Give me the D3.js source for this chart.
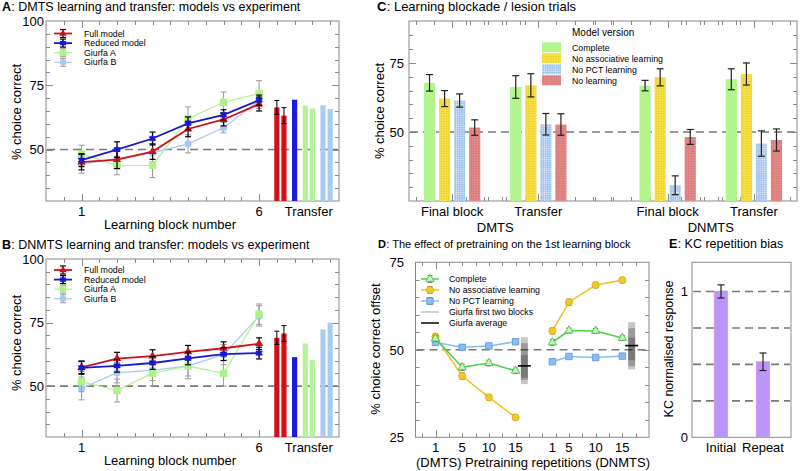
<!DOCTYPE html>
<html><head><meta charset="utf-8">
<script src="https://cdn.jsdelivr.net/npm/d3@7"></script>
<style>body{margin:0;background:#fff} svg{display:block}</style>
</head><body><svg id="c" width="800" height="471"></svg>
<script>
// ---------------- DATA ----------------
const blocks = [1, 2, 3, 4, 5, 6];
// Panel A (DMTS)
const dmtsFull = [45.1, 46.1, 49.2, 58.0, 61.7, 67.7];
const dmtsFullErr = [3.0, 3.5, 3.0, 3.0, 2.5, 2.7];
const dmtsReduced = [45.9, 50.0, 54.3, 60.2, 63.5, 69.2];
const dmtsReducedErr = [2.5, 3.0, 2.5, 2.5, 2.0, 2.0];
const dmtsGiurfaA = [48.3, 43.7, 43.9, 62.0, 68.4, 71.8];
const dmtsGiurfaAErr = [3.4, 3.5, 4.8, 4.6, 4.0, 5.0];
const dmtsGiurfaB = [44.3, 46.5, 48.7, 52.2, 58.5, 69.0];
const dmtsGiurfaBErr = [3.5, 3.5, 3.5, 3.5, 2.0, 3.0];
// Panel B (DNMTS)
const dnmtsFull = [57.4, 60.8, 61.8, 63.5, 64.9, 66.7];
const dnmtsFullErr = [2.5, 2.5, 2.5, 2.5, 2.5, 2.3];
const dnmtsReduced = [57.2, 58.0, 59.1, 60.9, 62.6, 63.0];
const dnmtsReducedErr = [2.5, 2.5, 2.5, 2.5, 2.5, 2.3];
const dnmtsGiurfaA = [51.8, 48.3, 55.1, 57.9, 55.0, 78.3];
const dnmtsGiurfaAErr = [4.0, 4.5, 5.0, 5.0, 5.0, 4.0];
const dnmtsGiurfaB = [49.1, 55.3, 56.2, 58.0, 62.4, 77.6];
const dnmtsGiurfaBErr = [4.5, 4.0, 4.0, 4.0, 4.0, 4.0];
// Transfer bars (A and B): Full x2, Reduced x1, Giurfa A x2, Giurfa B x2
const transferSeries = ["full", "full", "reduced", "gA", "gA", "gB", "gB"];
const transferPos = [6.5, 6.7, 7.0, 7.3, 7.5, 7.8, 8.0];
const dmtsTransfer = [66.4, 63.2, 69.4, 67.1, 66.0, 67.2, 65.8];
const dmtsTransferErr = [2.7, 3.1, 0, 0, 0, 0, 0];
const dnmtsTransfer = [69.0, 70.7, 61.4, 66.8, 60.2, 72.3, 75.0];
const dnmtsTransferErr = [2.6, 3.1, 0, 0, 0, 0, 0];
const yTicksAB = [50, 75, 100];

// Panel C
const cGroupLabels = ["Final block", "Transfer", "Final block", "Transfer"];
const cTaskLabels = ["DMTS", "DNMTS"];
const cVersions = ["Complete", "No associative learning", "No PCT learning", "No learning"];
const cComplete = [67.8, 66.3, 66.8, 69.1];
const cCompleteErr = [3.0, 4.1, 1.9, 3.8];
const cNoAssoc = [62.1, 66.9, 69.8, 71.0];
const cNoAssocErr = [2.9, 4.2, 3.1, 4.0];
const cNoPCT = [61.4, 52.8, 30.7, 45.8];
const cNoPCTErr = [2.4, 3.9, 3.4, 4.6];
const cNoLearn = [51.6, 52.7, 48.2, 47.1];
const cNoLearnErr = [2.8, 3.9, 2.7, 4.0];
const yTicksC = [50, 75];

// Panel D
const dReps = ["1", "5", "10", "15"];
const dComplete = [53.2, 45.0, 46.2, 44.0, 52.1, 55.5, 55.4, 53.4];
const dCompleteErr = [0.8, 0.9, 0.8, 0.8, 0.8, 0.7, 0.7, 0.7];
const dNoAssoc = [53.8, 42.5, 36.4, 30.7, 55.4, 63.6, 68.5, 69.9];
const dNoAssocErr = [0.8, 0.9, 0.8, 0.7, 0.9, 0.9, 0.8, 0.7];
const dNoPCT = [52.1, 50.7, 51.1, 52.3, 46.6, 48.1, 47.8, 48.2];
const dNoPCTErr = [0.6, 0.6, 0.6, 0.6, 0.6, 0.6, 0.6, 0.6];
const dGiurfaRangesDMTS = [[40.2, 53.6], [41.4, 51.9], [42.0, 48.5]];
const dGiurfaRangesDNMTS = [[44.4, 57.9], [45.3, 56.2], [47.0, 53.5]];
const dGiurfaAvg = [45.4, 51.2];
const yTicksD = [25, 50, 75];

// Panel E
const eCats = ["Initial", "Repeat"];
const eVals = [1.0, 0.518];
const eErr = [0.045, 0.06];
const eGrid = [0.25, 0.5, 0.75, 1];

// ---------------- DRAW ----------------
const F = "'Liberation Sans', Arial, sans-serif";
const svg = d3.select("#c");
const FR = "#8a8a8a";
const TS = 13; // tick / axis label size

const defs = svg.append("defs");
function dotPattern(id, base, dot, size, r) {
  const p = defs.append("pattern").attr("id", id).attr("patternUnits", "userSpaceOnUse")
    .attr("width", size).attr("height", size);
  p.append("rect").attr("width", size).attr("height", size).attr("fill", base);
  p.append("circle").attr("cx", size / 2).attr("cy", size / 2).attr("r", r).attr("fill", dot);
  return `url(#${id})`;
}
const patYellow = dotPattern("pY", "#f9e048", "#e3c41e", 2.5, 0.7);
const patBlue = dotPattern("pB", "#9cc0ee", "#e8f0fc", 2.2, 0.65);
const patRed = dotPattern("pR", "#e58a8a", "#cc6a6a", 2.5, 0.7);

function title(x, y, letter, text, size) {
  const a = svg.append("text").attr("x", x).attr("y", y).attr("font-family", F)
    .attr("font-size", size).attr("font-weight", "bold").text(letter);
  const w = a.node().getComputedTextLength();
  svg.append("text").attr("x", x + w + 0.3).attr("y", y).attr("font-family", F)
    .attr("font-size", size).text(": " + text);
}
function frame(x0, y0, x1, y1) {
  svg.append("rect").attr("x", x0).attr("y", y0).attr("width", x1 - x0).attr("height", y1 - y0)
    .attr("fill", "none").attr("stroke", FR).attr("stroke-width", 1);
}
function yTicks(y, vals, major, x0, x1) {
  vals.forEach(v => {
    const L = major.includes(v) ? 7 : 4;
    const yy = Math.round(y(v)) + 0.5;
    svg.append("line").attr("x1", x0).attr("x2", x0 + L).attr("y1", yy).attr("y2", yy).attr("stroke", FR);
    svg.append("line").attr("x1", x1 - L).attr("x2", x1).attr("y1", yy).attr("y2", yy).attr("stroke", FR);
  });
}
function xTicks(x, vals, major, y0, y1) {
  vals.forEach(v => {
    const L = major.includes(v) ? 7 : 4;
    const xx = Math.round(x(v)) + 0.5;
    svg.append("line").attr("x1", xx).attr("x2", xx).attr("y1", y1).attr("y2", y1 - L).attr("stroke", FR);
    svg.append("line").attr("x1", xx).attr("x2", xx).attr("y1", y0).attr("y2", y0 + L).attr("stroke", FR);
  });
}
function dashH(x0, x1, yy, dash) {
  svg.append("line").attr("x1", x0).attr("x2", x1).attr("y1", yy).attr("y2", yy)
    .attr("stroke", "#7a7a7a").attr("stroke-width", 1.6).attr("stroke-dasharray", dash || "8,5");
}
function errBar(g, x, y1, y2, cap, color, w) {
  g.append("line").attr("x1", x).attr("x2", x).attr("y1", y1).attr("y2", y2).attr("stroke", color).attr("stroke-width", w || 1);
  g.append("line").attr("x1", x - cap).attr("x2", x + cap).attr("y1", y1).attr("y2", y1).attr("stroke", color).attr("stroke-width", w || 1);
  g.append("line").attr("x1", x - cap).attr("x2", x + cap).attr("y1", y2).attr("y2", y2).attr("stroke", color).attr("stroke-width", w || 1);
}
function yLabel(x, y, text, size) {
  svg.append("text").attr("transform", `translate(${x},${y}) rotate(-90)`).attr("text-anchor", "middle")
    .attr("font-family", F).attr("font-size", size).text(text);
}
function label(x, y, text, size, anchor) {
  return svg.append("text").attr("x", x).attr("y", y).attr("text-anchor", anchor || "middle")
    .attr("font-family", F).attr("font-size", size).text(text);
}

// ---- Panels A & B ----
const styles = {
  full: { color: "#d01018", sym: d3.symbolTriangle, size: 30, err: "#000", bar: "#d5101a" },
  reduced: { color: "#1818d0", sym: d3.symbolSquare, size: 22, err: "#000", bar: "#1c1ce0" },
  gA: { color: "#aef28a", sym: d3.symbolSquare, size: 55, err: "#999", bar: "#b4f498" },
  gB: { color: "#a6c8f2", sym: d3.symbolCircle, size: 40, err: "#999", bar: "#a9cbf4" }
};
function panelAB(y0, y1, letter, ttl, series, tVals, tErr, legendTop, yLabCenter) {
  const x = d3.scaleLinear().domain([0, 8.25]).range([46, 339]);
  const y = d3.scaleLinear().domain([30, 100]).range([y1, y0]);
  title(2, y0 - 10, letter, ttl, 12.5);
  frame(46, y0, 339, y1);
  yTicks(y, d3.range(35, 100, 5), [50, 75], 46, 339);
  xTicks(x, d3.range(0.5, 8.01, 0.5), [1, 6], y0, y1);
  dashH(47, 338, y(50));
  yTicksAB.forEach(v => label(44, y(v) + 4.7, v, TS, "end"));
  label(x(1), y1 + 15, "1", TS);
  label(x(6), y1 + 15, "6", TS);
  label(x(7.4), y1 + 15, "Transfer", TS);
  label(170, y1 + 28, "Learning block number", TS);
  yLabel(21, yLabCenter, "% choice correct", TS);
  const g = svg.append("g");
  // transfer bars
  tVals.forEach((v, i) => {
    const st = styles[transferSeries[i]];
    g.append("rect").attr("x", x(transferPos[i]) - 2.6).attr("width", 5.2)
      .attr("y", y(v)).attr("height", y1 - y(v)).attr("fill", st.bar);
    if (tErr[i] > 0) errBar(g, x(transferPos[i]), y(v - tErr[i]), y(v + tErr[i]), 2.5, "#000");
  });
  const line = d3.line().x((d, i) => x(blocks[i])).y(d => y(d));
  series.forEach(s => {
    const st = styles[s.key];
    s.vals.forEach((v, i) => errBar(g, x(blocks[i]), y(v - s.err[i]), y(v + s.err[i]), 3, st.err, st.err === "#000" ? 1.2 : 1));
    g.append("path").attr("d", line(s.vals)).attr("fill", "none").attr("stroke", st.color)
      .attr("stroke-width", s.key === "gA" || s.key === "gB" ? 1.2 : 1.8);
    s.vals.forEach((v, i) => {
      g.append("path").attr("d", d3.symbol(st.sym, st.size)()).attr("transform", `translate(${x(blocks[i])},${y(v)})`)
        .attr("fill", st.color);
      if (s.key === "reduced")
        g.append("path").attr("d", d3.symbol(d3.symbolAsterisk, 40)()).attr("transform", `translate(${x(blocks[i])},${y(v)})`)
          .attr("fill", "none").attr("stroke", st.color).attr("stroke-width", 1.6);
    });
  });
  // legend
  const names = { full: "Full model", reduced: "Reduced model", gA: "Giurfa A", gB: "Giurfa B" };
  ["full", "reduced", "gA", "gB"].forEach((k, i) => {
    const st = styles[k];
    const ly = legendTop + i * 9.6;
    errBar(g, 63, ly - 4, ly + 4, 3, st.err, st.err === "#000" ? 1.2 : 1);
    g.append("line").attr("x1", 54).attr("x2", 72).attr("y1", ly).attr("y2", ly).attr("stroke", st.color).attr("stroke-width", k === "gA" || k === "gB" ? 1.2 : 1.8);
    g.append("path").attr("d", d3.symbol(st.sym, st.size * 0.8)()).attr("transform", `translate(63,${ly})`).attr("fill", st.color);
    if (k === "reduced")
      g.append("path").attr("d", d3.symbol(d3.symbolAsterisk, 34)()).attr("transform", `translate(63,${ly})`)
        .attr("fill", "none").attr("stroke", st.color).attr("stroke-width", 1.5);
    label(84, ly + 3.1, names[k], 8.8, "start");
  });
}
panelAB(21, 201, "A", "DMTS learning and transfer: models vs experiment", [
  { key: "gB", vals: dmtsGiurfaB, err: dmtsGiurfaBErr },
  { key: "gA", vals: dmtsGiurfaA, err: dmtsGiurfaAErr },
  { key: "full", vals: dmtsFull, err: dmtsFullErr },
  { key: "reduced", vals: dmtsReduced, err: dmtsReducedErr }
], dmtsTransfer, dmtsTransferErr, 33.5, 112);
panelAB(259, 437, "B", "DNMTS learning and transfer: models vs experiment", [
  { key: "gB", vals: dnmtsGiurfaB, err: dnmtsGiurfaBErr },
  { key: "gA", vals: dnmtsGiurfaA, err: dnmtsGiurfaAErr },
  { key: "full", vals: dnmtsFull, err: dnmtsFullErr },
  { key: "reduced", vals: dnmtsReduced, err: dnmtsReducedErr }
], dnmtsTransfer, dnmtsTransferErr, 270, 343);

// ---- Panel C ----
(function () {
  const x = d3.scaleLinear().domain([0.5, 5.0]).range([409, 797]);
  const y = d3.scaleLinear().domain([25, 90.2]).range([201, 21]);
  const groupPos = [1, 2, 3.5, 4.5];
  const offs = [-0.262, -0.087, 0.087, 0.262];
  const bw = 0.13;
  title(377, 11, "C", "Learning blockade / lesion trials", 13);
  frame(409, 21, 797, 201);
  yTicks(y, d3.range(30, 90, 5), [50, 75], 409, 797);
  const tk = [];
  groupPos.forEach(p => d3.range(-4, 5).forEach(k => { const v = p + k * 0.21; if (v > 0.55 && v < 4.95) tk.push(+v.toFixed(3)); }));
  xTicks(x, Array.from(new Set(tk)), groupPos, 21, 201);
  dashH(410, 796, y(50));
  yTicksC.forEach(v => label(404, y(v) + 4.7, v, TS, "end"));
  yLabel(384, 111, "% choice correct", TS);
  const fills = [ "#b2f58e", patYellow, patBlue, patRed ];
  const sets = [[cComplete, cCompleteErr], [cNoAssoc, cNoAssocErr], [cNoPCT, cNoPCTErr], [cNoLearn, cNoLearnErr]];
  const g = svg.append("g");
  sets.forEach((s, si) => {
    s[0].forEach((v, gi) => {
      const cx = x(groupPos[gi] + offs[si]);
      const w = x(bw) - x(0);
      g.append("rect").attr("x", cx - w / 2).attr("width", w).attr("y", y(v)).attr("height", 201 - y(v)).attr("fill", fills[si]);
      errBar(g, cx, y(v - s[1][gi]), y(v + s[1][gi]), 3.5, "#222", 1.2);
    });
  });
  cGroupLabels.forEach((t, i) => label(x(groupPos[i]), 216, t, TS));
  cTaskLabels.forEach((t, i) => label(x((groupPos[i * 2] + groupPos[i * 2 + 1]) / 2), 231.5, t, TS));
  // legend
  label(572, 36, "Model version", 10, "start");
  cVersions.forEach((t, i) => {
    const ly = 47.3 + i * 11;
    g.append("rect").attr("x", 542).attr("y", ly - 5).attr("width", 19).attr("height", 10).attr("fill", fills[i]);
    label(572, ly + 3.2, t, 8.8, "start");
  });
})();

// ---- Panel D ----
(function () {
  const x = d3.scaleLinear().domain([0.25, 9]).range([415.5, 649]);
  const y = d3.scaleLinear().domain([25, 75]).range([437.3, 262.3]);
  const pos = [1, 2, 3, 4, 5.38, 6, 7, 8];
  const gPos = [4.33, 8.35];
  title(378, 248, "D", "The effect of pretraining on the 1st learning block", 11);
  frame(415.5, 262.3, 649, 437.3);
  yTicks(y, d3.range(30, 75, 5), [50], 415.5, 649);
  const tk = d3.range(0.5, 9, 0.5);
  xTicks(x, tk, [1], 262.3, 437.3);
  dashH(416.5, 648, y(50));
  yTicksD.forEach(v => label(404, y(v) + 4.7, v, TS, "end"));
  yLabel(380, 349, "% choice correct offset", TS);
  pos.forEach((p, i) => label(x(p), 452, dReps[i % 4], TS));
  label(533, 467, "(DMTS) Pretraining repetitions (DNMTS)", TS);
  const g = svg.append("g");
  // Giurfa shaded ranges
  [dGiurfaRangesDMTS, dGiurfaRangesDNMTS].forEach((rs, k) => {
    rs.forEach(r => g.append("rect").attr("x", x(gPos[k]) - 3.5).attr("width", 7)
      .attr("y", y(r[1])).attr("height", y(r[0]) - y(r[1])).attr("fill", "#000").attr("opacity", 0.22));
    g.append("line").attr("x1", x(gPos[k]) - 6.5).attr("x2", x(gPos[k]) + 6.5)
      .attr("y1", y(dGiurfaAvg[k])).attr("y2", y(dGiurfaAvg[k])).attr("stroke", "#000").attr("stroke-width", 1.6);
  });
  const dsets = [
    { vals: dNoPCT, err: dNoPCTErr, color: "#8cbcf0", stroke: "#5a96e0", sym: d3.symbolSquare, size: 42, lc: "#8cbcf0" },
    { vals: dNoAssoc, err: dNoAssocErr, color: "#f4c828", stroke: "#d8a810", sym: d3.symbolCircle, size: 40, lc: "#f0c020" },
    { vals: dComplete, err: dCompleteErr, color: "#c8f4c0", stroke: "#30c030", sym: d3.symbolTriangle, size: 30, lc: "#48d048" }
  ];
  const line = d3.line().x(d => x(d.p)).y(d => y(d.v));
  dsets.forEach(s => {
    [0, 4].forEach(st => {
      const pts = s.vals.slice(st, st + 4).map((v, i) => ({ p: pos[st + i], v }));
      g.append("path").attr("d", line(pts)).attr("fill", "none").attr("stroke", s.lc).attr("stroke-width", 1.5);
    });
    s.vals.forEach((v, i) => {
      errBar(g, x(pos[i]), y(v - s.err[i]), y(v + s.err[i]), 2.5, "#777", 1);
      g.append("path").attr("d", d3.symbol(s.sym, s.size)()).attr("transform", `translate(${x(pos[i])},${y(v)})`)
        .attr("fill", s.color).attr("stroke", s.stroke).attr("stroke-width", 0.8);
    });
  });
  // legend
  const lg = [
    { t: "Complete", s: dsets[2] }, { t: "No associative learning", s: dsets[1] }, { t: "No PCT learning", s: dsets[0] },
    { t: "Giurfa first two blocks", c: "#c4c4c4" }, { t: "Giurfa average", c: "#000" }
  ];
  lg.forEach((e, i) => {
    const ly = 279 + i * 11;
    if (e.s) {
      g.append("line").attr("x1", 421).attr("x2", 439).attr("y1", ly).attr("y2", ly).attr("stroke", e.s.lc).attr("stroke-width", 1.5);
      errBar(g, 430, ly - 3.5, ly + 3.5, 2.5, "#777", 1);
      g.append("path").attr("d", d3.symbol(e.s.sym, e.s.size)()).attr("transform", `translate(430,${ly})`)
        .attr("fill", e.s.color).attr("stroke", e.s.stroke).attr("stroke-width", 0.8);
    } else {
      g.append("line").attr("x1", 421).attr("x2", 439).attr("y1", ly).attr("y2", ly).attr("stroke", e.c).attr("stroke-width", 1.5);
    }
    label(449, ly + 3.2, e.t, 8.8, "start");
  });
})();

// ---- Panel E ----
(function () {
  const x = d3.scalePoint().domain(eCats).range([721, 763]);
  const y = d3.scaleLinear().domain([0, 1.2]).range([437.3, 262.3]);
  title(669, 248, "E", "KC repetition bias", 12.5);
  eGrid.forEach(v => dashH(693, 790, y(v), "8,5"));
  frame(692, 262.3, 791, 437.3);
  label(688, y(1) + 4.7, "1", TS, "end");
  label(688, y(0) + 4.7, "0", TS, "end");
  yLabel(673, 349, "KC normalised response", 12.5);
  const g = svg.append("g");
  eVals.forEach((v, i) => {
    g.append("rect").attr("x", x(eCats[i]) - 6.7).attr("width", 13.4).attr("y", y(v)).attr("height", y(0) - y(v))
      .attr("fill", "#b996f7").attr("stroke", "#e48ce8").attr("stroke-width", 0.8);
    errBar(g, x(eCats[i]), y(v - eErr[i]), y(v + eErr[i]), 3.5, "#222", 1.2);
    label(x(eCats[i]), 452, eCats[i], TS);
  });
})();
</script>
</body></html>
